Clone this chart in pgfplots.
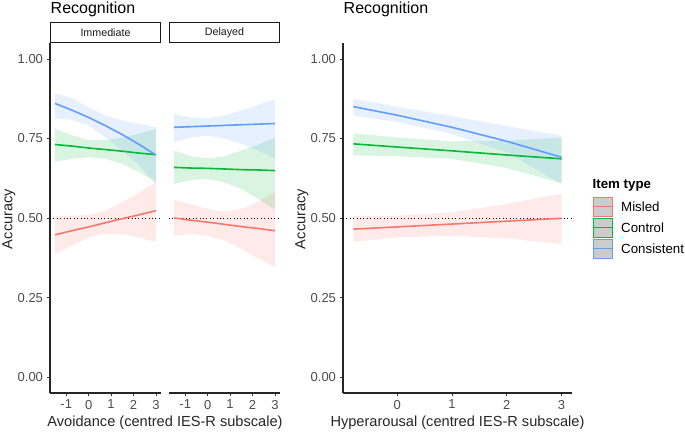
\documentclass[border=0pt]{standalone}
\usepackage{pgfplots}
\pgfplotsset{compat=1.18}
\usepackage{pgfplotstable}
\usepgfplotslibrary{fillbetween}
\usepackage{fontspec}
\setmainfont{Liberation Sans}

\definecolor{mis}{HTML}{F8766D}
\definecolor{con}{HTML}{00BA38}
\definecolor{cst}{HTML}{619CFF}

% m = Misled, c = Control, s = Consistent; F = fit, U/L = CI bounds
\pgfplotstableread{
x     mF    mU    mL    cF    cU    cL    sF    sU    sL
-1.5  0.447 0.507 0.387 0.731 0.780 0.677 0.860 0.893 0.813
-0.75 0.460 0.507 0.413 0.726 0.760 0.686 0.839 0.876 0.809
0     0.472 0.510 0.439 0.720 0.745 0.691 0.816 0.848 0.791
0.75  0.485 0.523 0.450 0.715 0.745 0.686 0.790 0.822 0.753
1.5   0.498 0.549 0.450 0.710 0.752 0.670 0.762 0.806 0.712
2.25  0.510 0.580 0.439 0.704 0.765 0.644 0.731 0.796 0.665
3     0.523 0.612 0.425 0.699 0.780 0.613 0.698 0.785 0.607
}\immtab

\pgfplotstableread{
x     mF    mU    mL    cF    cU    cL    sF    sU    sL
-1.5  0.500 0.557 0.444 0.659 0.712 0.607 0.785 0.827 0.738
-0.75 0.493 0.544 0.450 0.657 0.694 0.619 0.787 0.816 0.753
0     0.487 0.528 0.444 0.656 0.687 0.623 0.789 0.813 0.759
0.75  0.480 0.520 0.429 0.654 0.694 0.612 0.791 0.822 0.750
1.5   0.473 0.528 0.403 0.652 0.712 0.591 0.793 0.838 0.733
2.25  0.467 0.551 0.373 0.651 0.730 0.560 0.795 0.855 0.712
3     0.460 0.581 0.345 0.649 0.753 0.526 0.797 0.874 0.687
}\deltab

\pgfplotstableread{
x     mF    mU    mL    cF    cU    cL    sF    sU    sL
-0.8  0.465 0.507 0.425 0.733 0.766 0.697 0.850 0.874 0.822
0     0.472 0.507 0.439 0.723 0.753 0.694 0.823 0.850 0.802
1     0.481 0.518 0.444 0.711 0.741 0.686 0.785 0.820 0.764
2     0.490 0.544 0.436 0.698 0.743 0.657 0.741 0.789 0.706
3     0.499 0.577 0.418 0.686 0.753 0.609 0.691 0.759 0.607
}\hyptab

% ribbon: table, upper col, lower col, colour, path tag
\newcommand{\band}[5]{%
  \addplot[draw=none, name path=#5u] table[x=x,y=#2]{#1};
  \addplot[draw=none, name path=#5l] table[x=x,y=#3]{#1};
  \addplot[fill=#4, fill opacity=0.15, draw=none] fill between[of=#5u and #5l];
}
\newcommand{\fit}[3]{\addplot[#3, line width=1.6pt] table[x=x,y=#2]{#1};}

\pgfplotsset{
  panel/.style={
    scale only axis, height=350pt, ymin=-0.05, ymax=1.05,
    ytick={0,0.25,0.5,0.75,1}, yticklabels={0.00,0.25,0.50,0.75,1.00},
    tick align=outside, major tick length=3.5pt,
    every tick/.style={black!80, line width=0.7pt},
    axis line style={black!85, line width=1.1pt, -},
    tick label style={font=\fontsize{13}{13}\selectfont, text=black!70},
    axis x line*=bottom, axis y line*=left,
  },
  facet/.style={panel, width=111pt, xmin=-1.725, xmax=3.225,
    xtick={-1,0,1,2,3}, xticklabels={-1,0,1,2,3},
    every axis title/.style={at={(0.5,1)}, anchor=south, draw=black!90,
      line width=0.9pt, minimum width=110.5pt, minimum height=19.6pt, inner sep=0pt,
      font=\fontsize{10.7}{10.7}\selectfont, text=black!90},
  },
  hline/.style={black, line width=0.8pt, dash pattern=on 0.8pt off 2.6pt},
}

\begin{document}
\begin{tikzpicture}

% ---- Immediate ----
\begin{axis}[facet, at={(50pt,388pt)}, anchor=north west, title={Immediate}]
\band{\immtab}{mU}{mL}{mis}{ia}
\band{\immtab}{cU}{cL}{con}{ib}
\band{\immtab}{sU}{sL}{cst}{ic}
\addplot[hline] coordinates {(-1.725,0.5) (3.225,0.5)};
\fit{\immtab}{mF}{mis}
\fit{\immtab}{cF}{con}
\fit{\immtab}{sF}{cst}
\end{axis}

% ---- Delayed ----
\begin{axis}[facet, at={(169pt,388pt)}, anchor=north west, title={Delayed},
  axis y line=none, ytick=\empty]
\band{\deltab}{mU}{mL}{mis}{da}
\band{\deltab}{cU}{cL}{con}{db}
\band{\deltab}{sU}{sL}{cst}{dc}
\addplot[hline] coordinates {(-1.725,0.5) (3.225,0.5)};
\fit{\deltab}{mF}{mis}
\fit{\deltab}{cF}{con}
\fit{\deltab}{sF}{cst}
\end{axis}

% ---- Hyperarousal ----
\begin{axis}[panel, width=229pt, at={(343pt,388pt)}, anchor=north west,
  xmin=-0.99, xmax=3.19, xtick={0,1,2,3}, xticklabels={0,1,2,3}]
\band{\hyptab}{mU}{mL}{mis}{ha}
\band{\hyptab}{cU}{cL}{con}{hb}
\band{\hyptab}{sU}{sL}{cst}{hc}
\addplot[hline] coordinates {(-0.99,0.5) (3.19,0.5)};
\fit{\hyptab}{mF}{mis}
\fit{\hyptab}{cF}{con}
\fit{\hyptab}{sF}{cst}
\end{axis}

% titles and axis titles
\node[anchor=base west, inner sep=0pt, font=\fontsize{16}{16}\selectfont] at (50.5pt,417.2pt) {Recognition};
\node[anchor=base west, inner sep=0pt, font=\fontsize{16}{16}\selectfont] at (343.5pt,417.2pt) {Recognition};
\node[anchor=base, inner sep=0pt, font=\fontsize{14.6}{14.6}\selectfont, text=black!85] at (165pt,4.3pt) {Avoidance (centred IES-R subscale)};
\node[anchor=base, inner sep=0pt, font=\fontsize{14.6}{14.6}\selectfont, text=black!85] at (457.5pt,4.3pt) {Hyperarousal (centred IES-R subscale)};
\node[anchor=base, rotate=90, inner sep=0pt, font=\fontsize{14.6}{14.6}\selectfont, text=black!85] at (12.4pt,212pt) {Accuracy};
\node[anchor=base, rotate=90, inner sep=0pt, font=\fontsize{14.6}{14.6}\selectfont, text=black!85] at (305.4pt,212pt) {Accuracy};

% legend
\node[anchor=base west, inner sep=0pt, font=\bfseries\fontsize{13.3}{13.3}\selectfont] at (592.5pt,242.7pt) {Item type};
\foreach \c/\t/\y in {mis/Misled/224.5, con/Control/203.5, cst/Consistent/182.5}{
  \begin{scope}[yshift=\y pt]
    \draw[draw=\c, line width=0.9pt, fill=gray!40] (593.5pt,-9.5pt) rectangle (612.5pt,9.5pt);
    \draw[\c, line width=1.2pt] (593.5pt,0pt) -- (612.5pt,0pt);
    \node[anchor=west, inner sep=0pt, font=\fontsize{13.3}{13.3}\selectfont] at (621pt,0pt) {\t};
  \end{scope}
}

\pgfresetboundingbox
\useasboundingbox (0,0) rectangle (685pt,431pt);
\end{tikzpicture}
\end{document}
